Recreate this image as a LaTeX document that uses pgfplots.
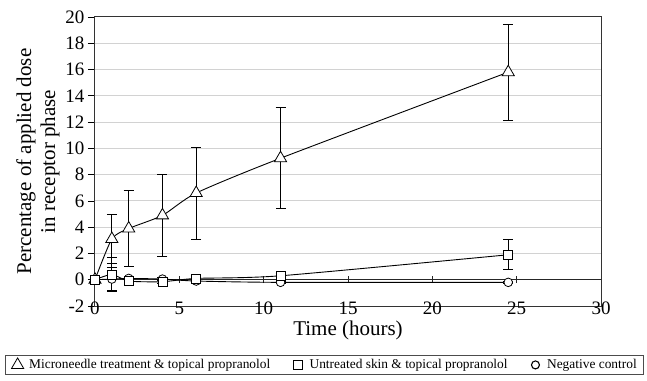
\documentclass[border=0pt]{standalone}
\usepackage{pgfplots}
\pgfplotsset{compat=1.18}
\usepackage{fontspec}
\setmainfont{Liberation Serif}
\begin{document}
\begin{tikzpicture}
\begin{axis}[
  scale only axis, width=506pt, height=289pt,
  xmin=0, xmax=30, ymin=-2, ymax=20,
  xtick={0,5,...,30}, ytick={-2,0,...,20},
  ytick pos=left,
  /pgf/number format/assume math mode=true,
  ticklabel style={font=\fontsize{19}{19}\selectfont},
  xticklabel style={anchor=center, yshift=5pt},
  x tick style={draw=none},
  y tick style={black, line width=0.8pt},
  tick align=outside, major tick length=7pt,
  ymajorgrids, grid style={gray!35, line width=1pt},
  axis line style={black!80, line width=1pt},
  xlabel={Time (hours)},
  xlabel style={font=\fontsize{21}{21}\selectfont, at={(axis description cs:0.5,0)}, anchor=north, yshift=-11pt},
  ylabel={Percentage of applied dose\\in receptor phase},
  ylabel style={font=\fontsize{21}{24}\selectfont, align=center, yshift=-1pt},
  legend columns=3,
  legend style={at={(axis description cs:-0.178,-0.170)}, anchor=north west, draw=black!70, line width=0.8pt,
    font=\fontsize{13.4}{15}\selectfont, inner xsep=5pt, inner ysep=2pt,
    /tikz/every even column/.append style={column sep=18.5pt}},
  legend image code/.code={\path (0,0) (0.56cm,0); \draw[#1] plot[only marks] coordinates {(0.24cm,0cm)};},
  every axis plot/.append style={black, line width=0.9pt},
  error bars/error bar style={black, line width=0.9pt},
  error bars/error mark options={rotate=90, mark size=5pt, line width=0.9pt, black},
]
% x axis at y=0
\draw[black!85, line width=1pt] (axis cs:0,0) -- (axis cs:30,0);
\pgfplotsinvokeforeach{5,10,15,20,25,30}{\draw[black!85, line width=0.9pt] (axis cs:#1,-0.25) -- (axis cs:#1,0.25);}
% Microneedle
\addplot[smooth, tension=0.4, mark=triangle*, mark size=7pt, mark options={fill=white, solid, line width=0.8pt},
  error bars/.cd, y dir=both, y explicit]
  table[x=x, y=y, y error=e] {
x y e
0 0 0
1 3.1 1.85
2 3.9 2.9
4 4.9 3.15
6 6.6 3.5
11 9.25 3.85
24.5 15.8 3.65
};
\addlegendentry{Microneedle treatment \& topical propranolol}
% Negative control
\addplot[forget plot, smooth, tension=0.4, mark=*, mark size=4.3pt, mark options={fill=white, line width=0.8pt},
  error bars/.cd, y dir=both, y explicit]
  table[x=x, y=y, y error=e] {
x y e
0 0 0
1 0.05 0.9
2 0.1 0.1
4 0.05 0.1
6 -0.1 0.1
11 -0.2 0.1
24.5 -0.2 0.05
};
% Untreated skin
\addplot[smooth, tension=0.4, mark=square*, mark size=4.5pt, mark options={fill=white, line width=0.8pt},
  error bars/.cd, y dir=both, y explicit]
  table[x=x, y=y, y error=e] {
x y e
0 0 0
1 0.4 1.3
2 -0.1 0.15
4 -0.15 0.15
6 0.1 0.1
11 0.3 0.15
24.5 1.9 1.15
};
\addlegendentry{Untreated skin \& topical propranolol}
\addlegendimage{mark=o, mark size=4pt, line width=1.1pt, black}
\addlegendentry{Negative control\hspace{22pt}}
\end{axis}
\path (current axis.south west) ++(-95pt,-74pt) coordinate (bbl);
\path (current axis.north east) ++(46pt,17pt) coordinate (btr);
\useasboundingbox (bbl) rectangle (btr);
\end{tikzpicture}
\end{document}
